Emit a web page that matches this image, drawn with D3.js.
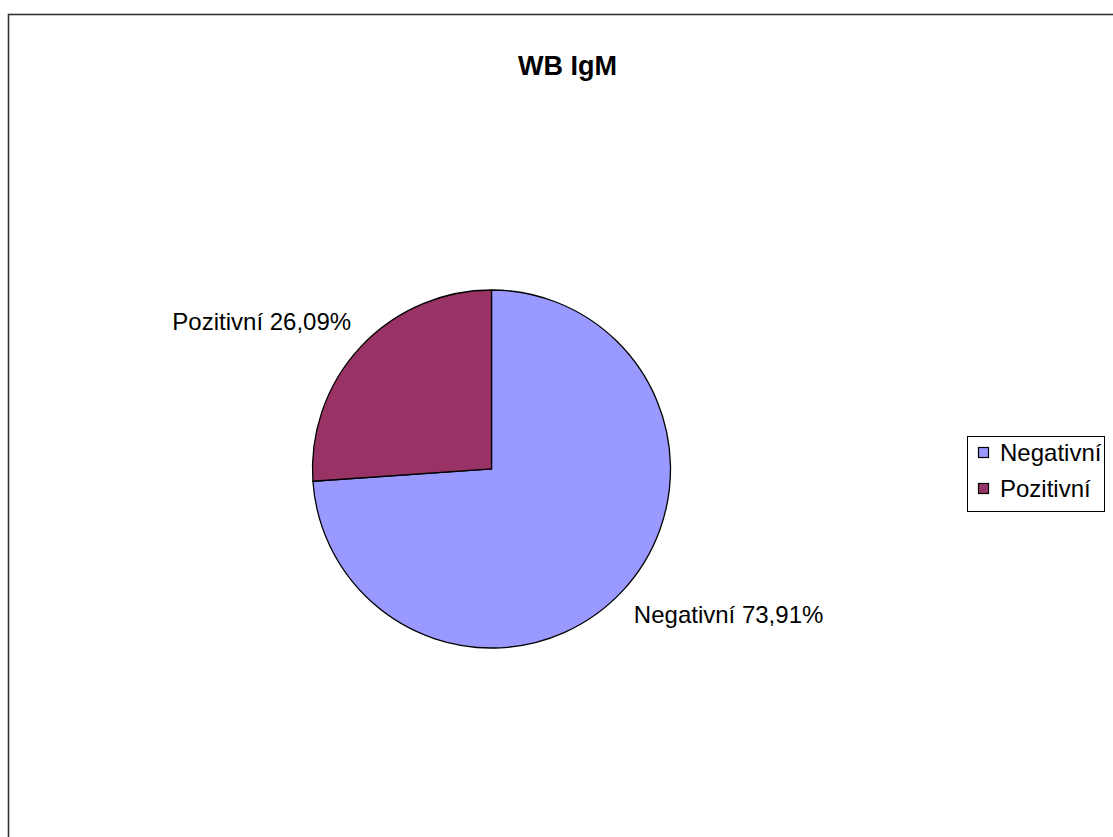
<!DOCTYPE html>
<html>
<head>
<meta charset="utf-8">
<script src="https://cdn.jsdelivr.net/npm/d3@7.9.0/dist/d3.min.js"></script>
<style>
  body { margin: 0; background: #fff; }
  svg { display: block; font-family: "Liberation Sans", Arial, sans-serif; }
</style>
</head>
<body>
<svg id="chart" width="1113" height="837"></svg>
<script>
const labels = ['Negativní', 'Pozitivní'];
const values = [73.91, 26.09];
const colors = ['#9999FF', '#993366'];

const svg = d3.select('#chart');

// chart frame (runs off the page on right and bottom)
svg.append('rect')
  .attr('x', 8.5).attr('y', 14.5)
  .attr('width', 1200).attr('height', 900)
  .attr('fill', 'none').attr('stroke', '#333').attr('stroke-width', 1.6);

svg.append('text')
  .attr('x', 567.5).attr('y', 75)
  .attr('text-anchor', 'middle')
  .attr('font-size', 27).attr('font-weight', 'bold')
  .text('WB IgM');

const cx = 491.5, cy = 469, r = 179;
const data = labels.map((l, i) => ({ label: l, value: values[i], color: colors[i] }));

const pie = d3.pie().sort(null).value(d => d.value);
const arc = d3.arc().innerRadius(0).outerRadius(r);

const g = svg.append('g').attr('transform', `translate(${cx},${cy})`);
const arcs = pie(data);

g.selectAll('path')
  .data(arcs)
  .join('path')
  .attr('d', arc)
  .attr('fill', d => d.data.color)
  .attr('stroke', '#000')
  .attr('stroke-width', 1.3);

// slice labels, placed outside the pie
const labelArc = d3.arc().innerRadius(203).outerRadius(203);
const isLeft = d => (d.startAngle + d.endAngle) / 2 > Math.PI;
g.selectAll('text.lbl')
  .data(arcs)
  .join('text')
  .attr('class', 'lbl')
  .attr('font-size', 24)
  .attr('fill', '#000')
  .attr('text-anchor', d => isLeft(d) ? 'end' : 'start')
  .attr('x', d => labelArc.centroid(d)[0] + (isLeft(d) ? 8 : -6))
  .attr('y', d => labelArc.centroid(d)[1] + (isLeft(d) ? 0 : 15))
  .text(d => `${d.data.label} ${d.data.value.toFixed(2).replace('.', ',')}%`);

// legend
const lg = svg.append('g').attr('transform', 'translate(967,436)');
lg.append('rect')
  .attr('x', 0.5).attr('y', 0.5).attr('width', 137).attr('height', 75)
  .attr('fill', '#fff').attr('stroke', '#000').attr('stroke-width', 1);

data.forEach((d, i) => {
  const row = lg.append('g').attr('transform', `translate(11,${25 + i * 36})`);
  row.append('rect')
    .attr('x', 0.5).attr('y', -13.5).attr('width', 10).attr('height', 10)
    .attr('fill', d.color).attr('stroke', '#000').attr('stroke-width', 1.2);
  row.append('text')
    .attr('x', 22).attr('y', 0)
    .attr('font-size', 24)
    .text(d.label);
});
</script>
</body>
</html>
